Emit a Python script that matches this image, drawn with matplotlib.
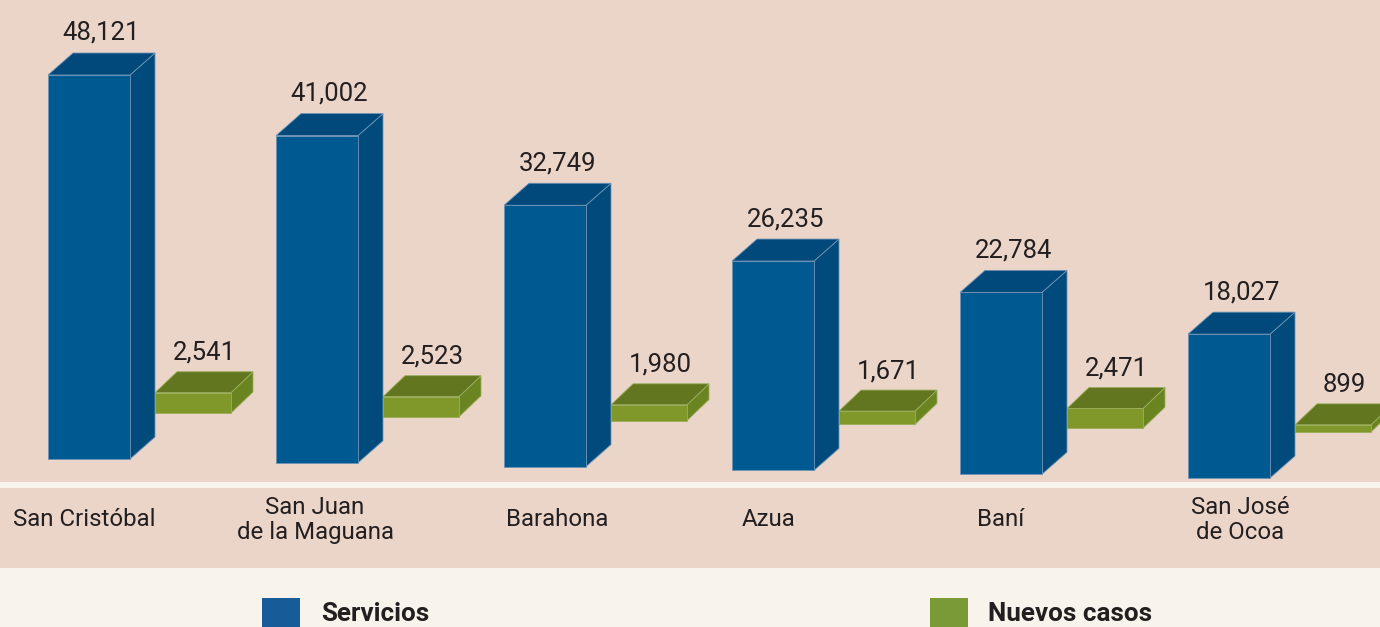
import matplotlib
matplotlib.use('Agg')
import matplotlib.pyplot as plt
from matplotlib.patches import Polygon, Rectangle

# ==========================================================================================
# Datos
provincias = ['San Cristóbal', 'San Juan\nde la Maguana', 'Barahona', 'Azua', 'Baní',
              'San José\nde Ocoa']
servicios = [48121, 41002, 32749, 26235, 22784, 18027]
nuevos_casos = [2541, 2523, 1980, 1671, 2471, 899]
series = ['Servicios', 'Nuevos casos']

# Ajuste horizontal de las etiquetas (px), como en el original
ajuste_etiqueta = [-5, -2, 12, -4, 0, 11]

# ==========================================================================================
# Colores
c_fondo = '#ebd5c9'
c_leyenda = '#f8f4eb'
azul = ('#005a92', '#00497a', '#004b7b')      # frente, tapa, lado
verde = ('#7f9829', '#62751f', '#6b8422')
azul_ley = '#175b98'
verde_ley = '#7a9a38'
c_texto = '#231f20'

# ==========================================================================================
# Escala (px de la figura de 1380x627)
W, H = 1380, 627
px_x = 228.0             # px por categoría
px_y = 0.00798           # px por unidad
x0 = 89.0                # centro de la primera barra azul (px)
y0 = 459.0               # base de la primera barra azul (px)

plt.rcParams['font.family'] = ['Roboto', 'DejaVu Sans']
fig = plt.figure(figsize=(W / 100, H / 100), dpi=100)
fig.patch.set_facecolor(c_leyenda)


def fy(p):
    return 1 - p / H


# Fondos
fig.patches.append(Rectangle((0, fy(482)), 1, 482 / H, transform=fig.transFigure,
                             facecolor=c_fondo, edgecolor='none', zorder=-5))
fig.patches.append(Rectangle((0, fy(568)), 1, 80 / H, transform=fig.transFigure,
                             facecolor=c_fondo, edgecolor='none', zorder=-5))

ax = fig.add_axes([0, 0, 1, 1])
ax.set_xlim(-x0 / px_x, (W - x0) / px_x)
ax.set_ylim(-(H - y0) / px_y, y0 / px_y)
ax.axis('off')
ax.patch.set_alpha(0)


def barra3d(xc, base, valor, ancho, dx_px, dy_px, colores, borde):
    dx = dx_px / px_x
    dy = dy_px / px_y
    l, r = xc - ancho / 2, xc + ancho / 2
    t = base + valor
    frente = [(l, base), (r, base), (r, t), (l, t)]
    tapa = [(l, t), (r, t), (r + dx, t + dy), (l + dx, t + dy)]
    lado = [(r, base), (r + dx, base + dy), (r + dx, t + dy), (r, t)]
    for pts, c in zip([lado, tapa, frente], [colores[2], colores[1], colores[0]]):
        ax.add_patch(Polygon(pts, closed=True, facecolor=c, edgecolor=borde,
                             linewidth=0.6, zorder=3))
    return xc + dx / 2, t + dy


caida = 3.8 / px_y            # inclinación del piso por categoría
sube_verde = 46 / px_y        # la base verde está más arriba

for i, prov in enumerate(provincias):
    base = -caida * i
    xt, yt = barra3d(i + 104 / px_x, base + sube_verde, nuevos_casos[i], 76 / px_x, 22, 21,
                     verde, '#9aae5c')
    ax.annotate(f'{nuevos_casos[i]:,}', (xt, yt), xytext=(0, 7), textcoords='offset pixels',
                ha='center', va='bottom', fontsize=18.5, color=c_texto, zorder=5)
    xt, yt = barra3d(i, base, servicios[i], 82 / px_x, 25, 22, azul, '#6f93b5')
    ax.annotate(f'{servicios[i]:,}', (xt, yt), xytext=(0, 8), textcoords='offset pixels',
                ha='center', va='bottom', fontsize=18.5, color=c_texto, zorder=5)
    ax.text(i + ajuste_etiqueta[i] / px_x, -(520 - y0) / px_y, prov, ha='center',
            va='center', fontsize=17.3, color=c_texto, linespacing=1.15, zorder=5)

# Leyenda
for (x_cuad, x_txt), nombre, c in zip([(262, 321), (930, 988)], series, [azul_ley, verde_ley]):
    fig.patches.append(Rectangle((x_cuad / W, fy(627)), 38 / W, 29 / H, transform=fig.transFigure,
                                 facecolor=c, edgecolor='none', zorder=2))
    fig.text(x_txt / W, fy(614), nombre, ha='left', va='center', fontsize=18.7,
             fontweight='bold', color=c_texto)

fig.savefig('out.png', dpi=100, facecolor=fig.get_facecolor())
